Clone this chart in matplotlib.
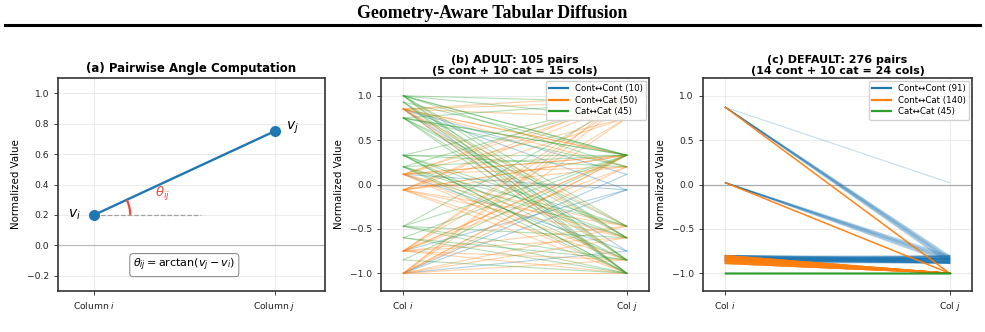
import numpy as np
import matplotlib
matplotlib.use("Agg")
import matplotlib.pyplot as plt
from matplotlib.patches import Arc
from matplotlib.lines import Line2D

plt.rcParams['font.family'] = ['DejaVu Sans']
plt.rcParams['mathtext.fontset'] = 'dejavusans'

BLUE, ORANGE, GREEN = '#1f77b4', '#ff7f0e', '#2ca02c'

# panel (a) example values
v_i = 0.2
v_j = 0.75

# panel (b) ADULT: representative normalized value per column
adult_cont = [0.85, -1.0, 0.115, -0.75, -0.06]
adult_cat = [1.0, 0.75, 0.33, 0.2, -0.47, 0.93, -0.6, -0.85, 0.33, -1.0]

# panel (c) DEFAULT
default_cont = [0.87, 0.02, -0.82, -0.85, -0.80, -0.86, -0.83, -0.89,
                -0.84, -0.81, -0.87, -0.85, -0.83, -0.88]
default_cat = [-1.0] * 10

fig = plt.figure(figsize=(9.85, 3.32), dpi=100)

fig.text(0.5, 0.958, "Geometry-Aware Tabular Diffusion", ha='center', va='center',
         fontsize=12.8, fontweight='bold', family='Liberation Serif')
fig.add_artist(Line2D([0.005, 0.995], [0.924, 0.924], color='black', lw=2.2,
                      transform=fig.transFigure))


def style_axes(ax):
    ax.grid(True, color='#dddddd', lw=0.6, alpha=0.7)
    ax.set_axisbelow(True)
    for s in ax.spines.values():
        s.set_color('#333333')
        s.set_linewidth(1.2)
    ax.tick_params(labelsize=6.6, length=3, width=0.6, colors='#222222')


# (a) pairwise angle
axa = fig.add_axes([0.0589, 0.1235, 0.2711, 0.6415])
style_axes(axa)
axa.axhline(0, color='#bbbbbb', lw=0.9, zorder=1)
axa.plot([0, 1], [v_i, v_j], color=BLUE, lw=1.7, zorder=3)
axa.scatter([0, 1], [v_i, v_j], s=48, color=BLUE, zorder=4)
axa.plot([0, 0.59], [v_i, v_i], color='gray', ls='--', lw=0.9, alpha=0.7, zorder=2)
ang = np.degrees(np.arctan2(v_j - v_i, 1.0))
axa.add_patch(Arc((0, v_i), 0.4, 0.47, theta1=0, theta2=ang, color='#e74c3c', lw=1.6, zorder=3))
axa.text(0.38, 0.34, r'$\theta_{ij}$', color='#e74c3c', fontsize=9.5, ha='center', va='center')
axa.text(-0.11, 0.2, r'$v_i$', fontsize=10, ha='center', va='center')
axa.text(1.1, 0.77, r'$v_j$', fontsize=10, ha='center', va='center')
axa.text(0.5, -0.13, r'$\theta_{ij} = \arctan(v_j - v_i)$', fontsize=8, ha='center', va='center',
         bbox=dict(boxstyle='round,pad=0.3', fc='white', ec='gray', lw=0.7))
axa.set_xlim(-0.2, 1.28)
axa.set_ylim(-0.3, 1.1)
axa.set_yticks(np.arange(-0.2, 1.01, 0.2))
axa.set_xticks([0, 1])
axa.set_xticklabels(['Column $i$', 'Column $j$'])
axa.set_ylabel('Normalized Value', fontsize=7.4)
axa.set_title('(a) Pairwise Angle Computation', fontsize=8.5, fontweight='bold', pad=4)


def pair_panel(ax, cont, cat, title, alpha):
    style_axes(ax)
    ax.axhline(0, color='#aaaaaa', lw=0.9, zorder=1)
    vals = cont + cat
    types = ['cont'] * len(cont) + ['cat'] * len(cat)
    groups = {'cc': [], 'cx': [], 'xx': []}
    for i in range(len(vals)):
        for j in range(i + 1, len(vals)):
            if types[i] == 'cont' and types[j] == 'cont':
                k = 'cc'
            elif types[i] == 'cat' and types[j] == 'cat':
                k = 'xx'
            else:
                k = 'cx'
            groups[k].append((vals[i], vals[j]))
    colors = {'cc': BLUE, 'cx': ORANGE, 'xx': GREEN}
    for k in ['cc', 'cx', 'xx']:
        for a, b in groups[k]:
            ax.plot([0, 1], [a, b], color=colors[k], alpha=alpha, lw=0.8, zorder=2)
    handles = [Line2D([], [], color=BLUE, lw=1.6),
               Line2D([], [], color=ORANGE, lw=1.6),
               Line2D([], [], color=GREEN, lw=1.6)]
    labels = [f'Cont\u2194Cont ({len(groups["cc"])})', f'Cont\u2194Cat ({len(groups["cx"])})',
              f'Cat\u2194Cat ({len(groups["xx"])})']
    ax.legend(handles, labels, loc='upper right', fontsize=6.2, handlelength=2.2,
              borderpad=0.4, labelspacing=0.3, framealpha=0.9, borderaxespad=0.3)
    ax.set_xlim(-0.1, 1.1)
    ax.set_ylim(-1.2, 1.2)
    ax.set_yticks([-1.0, -0.5, 0.0, 0.5, 1.0])
    ax.set_xticks([0, 1])
    ax.set_xticklabels(['Col $i$', 'Col $j$'])
    ax.set_ylabel('Normalized Value', fontsize=7.4)
    ax.set_title(title, fontsize=8, fontweight='bold', pad=3, linespacing=1.05)


axb = fig.add_axes([0.3868, 0.1235, 0.2721, 0.6415])
pair_panel(axb, adult_cont, adult_cat,
           '(b) ADULT: 105 pairs\n(5 cont + 10 cat = 15 cols)', 0.35)

axc = fig.add_axes([0.7137, 0.1235, 0.2731, 0.6415])
pair_panel(axc, default_cont, default_cat,
           '(c) DEFAULT: 276 pairs\n(14 cont + 10 cat = 24 cols)', 0.25)

fig.savefig('out.png', dpi=100)
